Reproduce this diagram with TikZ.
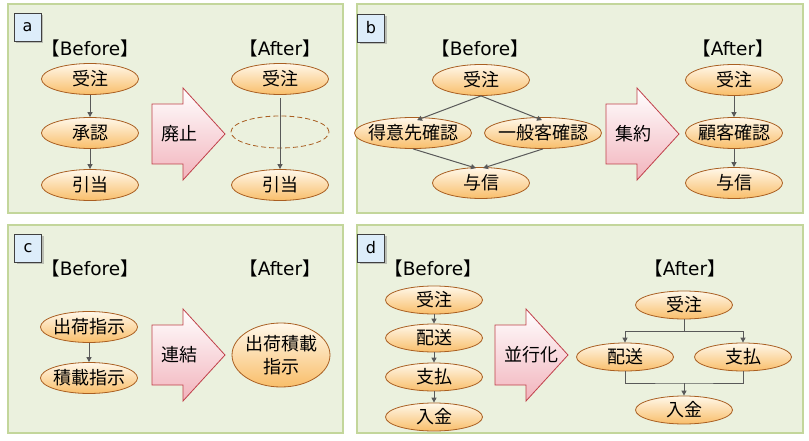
\documentclass[tikz,border=0pt]{standalone}
\usepackage{fontspec}
\setmainfont{Noto Sans CJK JP}
\newfontfamily\lat{DejaVu Sans}
\usepackage{xcolor}
\usetikzlibrary{arrows.meta,shapes.geometric,shadows}

\definecolor{panelfill}{HTML}{EBF1DE}
\definecolor{panelline}{HTML}{C3D69B}
\definecolor{tagfill}{HTML}{DDEDFA}
\definecolor{tagline}{HTML}{404040}
\definecolor{elptop}{HTML}{FFF8EA}
\definecolor{elpbot}{HTML}{F9BE6A}
\definecolor{elpline}{HTML}{A95F22}
\definecolor{flowbot}{HTML}{F2B3BC}
\definecolor{flowline}{HTML}{C0404A}
\definecolor{linkgray}{HTML}{595959}

\begin{document}
\begin{tikzpicture}[
  x=1pt, y=-1pt,
  >={Triangle[length=5pt,width=5pt]},
  % shared looks; positions are given per node below
  panel/.style={draw=panelline, fill=panelfill, line width=1.6pt},
  tag/.style={rectangle, draw=tagline, fill=tagfill, line width=0.8pt,
              minimum width=27pt, minimum height=28pt, inner sep=0pt,
              font=\lat\fontsize{16}{18}\selectfont,
              drop shadow={shadow xshift=2pt, shadow yshift=-2pt, fill=black!45}},
  hdr/.style={font=\fontsize{18.5}{22}\selectfont, inner sep=0pt},
  T/.style={ellipse, draw=elpline, line width=0.8pt,
            top color=elptop, bottom color=elpbot,
            minimum width=97pt, minimum height=31pt,
            inner xsep=-4pt, inner ysep=0pt,
            font=\fontsize{18}{22}\selectfont},
  gone/.style={ellipse, draw=elpline, dash pattern=on 5pt off 3pt, line width=0.8pt,
               minimum width=98pt, minimum height=32pt},
  bar/.style={->, linkgray, line width=1pt},
  link/.style={linkgray, line width=1pt},
  flow/.style={draw=flowline, line width=0.8pt, top color=white, bottom color=flowbot},
  flowtxt/.style={anchor=west, font=\fontsize{18}{22}\selectfont, inner sep=1pt},
]

\fill[white] (0,0) rectangle (809,441);
\useasboundingbox (0,0) rectangle (809,441);

%% ── Panels ────────────────────────────────────────────────────────
\draw[panel] (8,4)   rectangle (343,213);
\draw[panel] (357,4) rectangle (803,213);
\draw[panel] (8,225) rectangle (343,433);
\draw[panel] (357,225) rectangle (803,433);

\node[tag] (tagA) at (27.5,27)  {a};
\node[tag] (tagB) at (371,28)   {b};
\node[tag] (tagC) at (28,248)   {c};
\node[tag] (tagD) at (371,248)  {d};

%% ── Before / After headings ───────────────────────────────────────
\node[hdr] (aBh) at (90,48)   {【{\lat Before}】};
\node[hdr] (aAh) at (280,48)  {【{\lat After}】};
\node[hdr] (bBh) at (480,48)  {【{\lat Before}】};
\node[hdr] (bAh) at (733,48)  {【{\lat After}】};
\node[hdr] (cBh) at (90,268)  {【{\lat Before}】};
\node[hdr] (cAh) at (280,268) {【{\lat After}】};
\node[hdr] (dBh) at (433,268) {【{\lat Before}】};
\node[hdr] (dAh) at (685,268) {【{\lat After}】};

%% ── Block arrows ──────────────────────────────────────────────────
\foreach \ax/\ay/\nm/\txt in {152/134/a/廃止, 606/134/b/集約,
                              152/355/c/連結, 495/355/d/並行化}{
  \shade[flow] (\ax,\ay-30) -- (\ax+31,\ay-30) -- (\ax+31,\ay-46)
    -- (\ax+73,\ay) -- (\ax+31,\ay+46) -- (\ax+31,\ay+30)
    -- (\ax,\ay+30) -- cycle;
  \node[flowtxt] (flow\nm) at (\ax+8,\ay) {\txt};
}

%% ── a: abolish ────────────────────────────────────────────────────
\node[T] (aB1) at (90,79)  {受注};
\node[T] (aB2) at (90,133) {承認};
\node[T] (aB3) at (90,185) {引当};
\node[T]    (aA1) at (280,79)  {受注};
\node[gone] (aA2) at (280,132) {};
\node[T]    (aA3) at (280,185) {引当};

\draw[bar] (aB1) -- (aB2);
\draw[bar] (aB2) -- (aB3);
\draw[bar] ([yshift=-3pt]aA1.south) -- (aA3.north);

%% ── b: merge ──────────────────────────────────────────────────────
\node[T] (bB1) at (481,80)  {受注};
\node[T, minimum width=117pt] (bB2) at (413,133) {得意先確認};
\node[T, minimum width=117pt] (bB3) at (543,133) {一般客確認};
\node[T] (bB4) at (481,183) {与信};
\node[T] (bA1) at (734,80)  {受注};
\node[T] (bA2) at (734,133) {顧客確認};
\node[T] (bA3) at (734,183) {与信};

\draw[bar] (bB1.south) -- ([xshift=4pt,yshift=-3pt]bB2.north);
\draw[bar] (bB1.south) -- ([xshift=-1pt,yshift=-3pt]bB3.north);
\draw[bar] (bB2.south) -- ([xshift=-5pt,yshift=-1pt]bB4.north);
\draw[bar] (bB3.south) -- ([xshift=2pt,yshift=-1pt]bB4.north);
\draw[bar] (bA1) -- (bA2);
\draw[bar] (bA2) -- (bA3);

%% ── c: join ───────────────────────────────────────────────────────
\node[T] (cB1) at (89,327) {出荷指示};
\node[T] (cB2) at (89,378) {積載指示};
\node[T, minimum width=98pt, minimum height=64pt, inner xsep=-2pt,
      align=center, font=\fontsize{18}{23}\selectfont]
      (cA1) at (281,355) {出荷積載\\指示};

\draw[bar] (cB1) -- (cB2);

%% ── d: parallel ───────────────────────────────────────────────────
\node[T, minimum height=28pt] (dB1) at (434,300) {受注};
\node[T, minimum height=28pt] (dB2) at (434,338) {配送};
\node[T, minimum height=28pt] (dB3) at (434,377) {支払};
\node[T, minimum height=28pt] (dB4) at (434,417) {入金};
\node[T, minimum height=28pt] (dA1) at (684,305) {受注};
\node[T, minimum height=28pt] (dA2) at (625,357) {配送};
\node[T, minimum height=28pt] (dA3) at (743,357) {支払};
\node[T, minimum height=28pt] (dA4) at (684,410) {入金};

\foreach \src/\dst in {dB1/dB2, dB2/dB3, dB3/dB4}
  \draw[bar] (\src) -- (\dst);

\coordinate (dsplit) at (684,331);
\coordinate (djoin)  at (684,383);
\draw[link] (dA1.south) -- (dsplit);
\draw[bar]  (dsplit) -| (dA2.north);
\draw[bar]  (dsplit) -| (dA3.north);
\draw[link] (dA2.south) |- (djoin) -| (dA3.south);
\draw[bar]  (djoin) -- (dA4.north);

\end{tikzpicture}
\end{document}
